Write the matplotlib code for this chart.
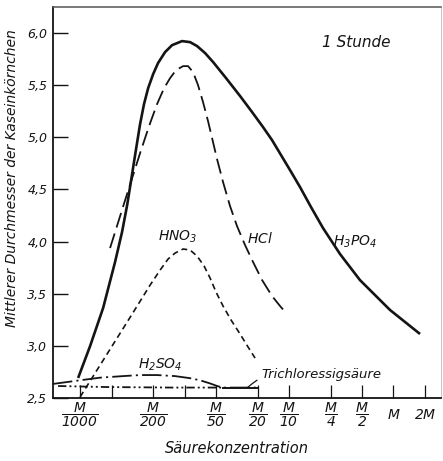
import matplotlib
matplotlib.use("Agg")
import matplotlib.pyplot as plt

plt.rcParams["font.family"] = ["DejaVu Sans"]
plt.rcParams["font.style"] = "italic"
plt.rcParams["mathtext.fontset"] = "custom"
plt.rcParams["mathtext.rm"] = "DejaVu Sans:italic"
plt.rcParams["mathtext.it"] = "DejaVu Sans:italic"
plt.rcParams["lines.scale_dashes"] = False

# Saeurekonzentration in mol/l, mittlerer Korndurchmesser nach 1 Stunde
conc_h3po4 = [0.000957, 0.001247, 0.00166, 0.00216, 0.00252, 0.00282, 0.00308,
              0.00336, 0.00375, 0.00409, 0.00448, 0.0050, 0.00557, 0.0065,
              0.00759, 0.00946, 0.01129, 0.01318, 0.01572, 0.01875, 0.02495,
              0.034, 0.0443, 0.0564, 0.0687, 0.0838, 0.1022, 0.1274, 0.1624,
              0.2115, 0.3076, 0.4775, 0.9266, 1.795]
d_h3po4 = [2.692, 2.999, 3.363, 3.804, 4.092, 4.350, 4.590,
           4.830, 5.127, 5.319, 5.472, 5.606, 5.712, 5.817,
           5.884, 5.923, 5.913, 5.875, 5.808, 5.722, 5.568,
           5.396, 5.242, 5.098, 4.974, 4.830, 4.686, 4.523, 4.331,
           4.130, 3.881, 3.631, 3.344, 3.114]

conc_hcl = [0.001935, 0.002697, 0.003752, 0.004571, 0.005452, 0.006368, 0.007268,
            0.008293, 0.009683, 0.0108, 0.01205, 0.01345, 0.01502, 0.01677,
            0.01833, 0.02046, 0.02335, 0.02723, 0.03176, 0.03791, 0.04525,
            0.05521, 0.06874, 0.08203, 0.09573]
d_hcl = [3.938, 4.398, 4.849, 5.108, 5.319, 5.472, 5.568,
         5.645, 5.683, 5.683, 5.626, 5.501, 5.338, 5.156,
         4.993, 4.791, 4.571, 4.341, 4.149, 3.967, 3.804,
         3.631, 3.478, 3.382, 3.305]

conc_hno3 = [0.001, 0.001247, 0.001812, 0.003148, 0.004677, 0.005833, 0.006954,
             0.00811, 0.009683, 0.01129, 0.01318, 0.01537, 0.01754, 0.02001,
             0.02335, 0.02786, 0.03396, 0.04053, 0.0473]
d_hno3 = [2.510, 2.663, 2.922, 3.305, 3.583, 3.727, 3.833,
          3.890, 3.929, 3.919, 3.861, 3.766, 3.651, 3.516,
          3.382, 3.248, 3.114, 2.989, 2.883]

conc_h2so4 = [0.00055, 0.001, 0.00155, 0.00258, 0.00375, 0.00545, 0.00811,
              0.0113, 0.01406, 0.0175, 0.0205, 0.0233, 0.05]
d_h2so4 = [2.635, 2.67, 2.695, 2.71, 2.72, 2.72, 2.71,
           2.69, 2.67, 2.64, 2.615, 2.60, 2.60]

conc_tca = [0.000615, 0.00181, 0.00776, 0.0233, 0.05]
d_tca = [2.615, 2.605, 2.60, 2.60, 2.60]

xtick_pos = [1/1000, 1/500, 1/200, 1/100, 1/50, 1/20, 1/10, 1/4, 1/2, 1, 2]
xtick_lab = [r"$\dfrac{M}{1000}$", "", r"$\dfrac{M}{200}$", "", r"$\dfrac{M}{50}$",
             r"$\dfrac{M}{20}$", r"$\dfrac{M}{10}$", r"$\dfrac{M}{4}$",
             r"$\dfrac{M}{2}$", r"$M$", r"$2M$"]
ytick_pos = [2.5, 3.0, 3.5, 4.0, 4.5, 5.0, 5.5, 6.0]
ytick_lab = ["2,5", "3,0", "3,5", "4,0", "4,5", "5,0", "5,5", "6,0"]

fig = plt.figure(figsize=(4.43, 4.61), dpi=100)
ax = fig.add_axes([53/443, 1 - 398/461, 388/443, 391/461])

ink = "#141414"
ax.plot(conc_h3po4, d_h3po4, color=ink, lw=1.9, solid_capstyle="butt")
ax.plot(conc_hcl, d_hcl, color=ink, lw=1.3, linestyle=(0, (11, 4.5)))
ax.plot(conc_hno3, d_hno3, color=ink, lw=1.2, linestyle=(0, (4.3, 2.9)))
ax.plot(conc_h2so4, d_h2so4, color=ink, lw=1.3, linestyle=(0, (14, 3, 1.5, 3)))
# Trichloressigsaeure: strichpunktiert, ab M/50 mit H2SO4 zusammenfallend
ax.plot(conc_tca[:4], d_tca[:4], color=ink, lw=1.3,
        linestyle=(0, (6, 2.2, 1.4, 2.2, 1.4, 2.2)))
ax.plot(conc_tca[3:], d_tca[3:], color=ink, lw=1.4)

ax.set_xscale("log")
ax.set_xlim(0.00055, 2.85)
ax.set_ylim(2.5, 6.25)
ax.minorticks_off()
ax.set_xticks(xtick_pos, xtick_lab)
ax.set_yticks(ytick_pos, ytick_lab)
ax.tick_params(axis="y", direction="in", length=11, width=1.0, pad=4,
               labelsize=9, colors=ink)
ax.tick_params(axis="x", direction="in", length=9.5, width=0.9, pad=12,
               labelsize=10, colors=ink)

for side in ("left", "bottom"):
    ax.spines[side].set_linewidth(1.3)
    ax.spines[side].set_color(ink)
ax.spines["top"].set_linewidth(1.1)
ax.spines["top"].set_color("#555555")
ax.spines["right"].set_linewidth(0.6)
ax.spines["right"].set_color("#bbbbbb")

ax.text(0.781, 0.908, "1 Stunde", transform=ax.transAxes, fontsize=11,
        ha="center", va="center", color=ink)
ax.text(0.322, 0.412, r"$HNO_3$", transform=ax.transAxes, fontsize=10,
        ha="center", va="center", color=ink)
ax.text(0.534, 0.409, r"$HCl$", transform=ax.transAxes, fontsize=10,
        ha="center", va="center", color=ink)
ax.text(0.778, 0.399, r"$H_3PO_4$", transform=ax.transAxes, fontsize=10,
        ha="center", va="center", color=ink)
ax.text(0.276, 0.084, r"$H_2SO_4$", transform=ax.transAxes, fontsize=10,
        ha="center", va="center", color=ink)
ax.annotate("Trichloressigsäure", xy=(0.04, 2.60), xycoords="data",
            xytext=(0.536, 0.061), textcoords="axes fraction",
            fontsize=9.5, ha="left", va="center", color=ink,
            arrowprops=dict(arrowstyle="-", color=ink, lw=0.9,
                            shrinkA=1, shrinkB=0,
                            connectionstyle="arc3,rad=0.3"))

fig.text(237/443, 1 - 448/461, "Säurekonzentration", fontsize=10.5,
         ha="center", va="center", color=ink)
fig.text(12/443, 1 - 178/461, "Mittlerer Durchmesser der Kaseinkörnchen",
         fontsize=10, rotation=90, ha="center", va="center", color=ink)

plt.setp(ax.get_xticklabels(), va="center")

fig.savefig("out.png", dpi=100)
